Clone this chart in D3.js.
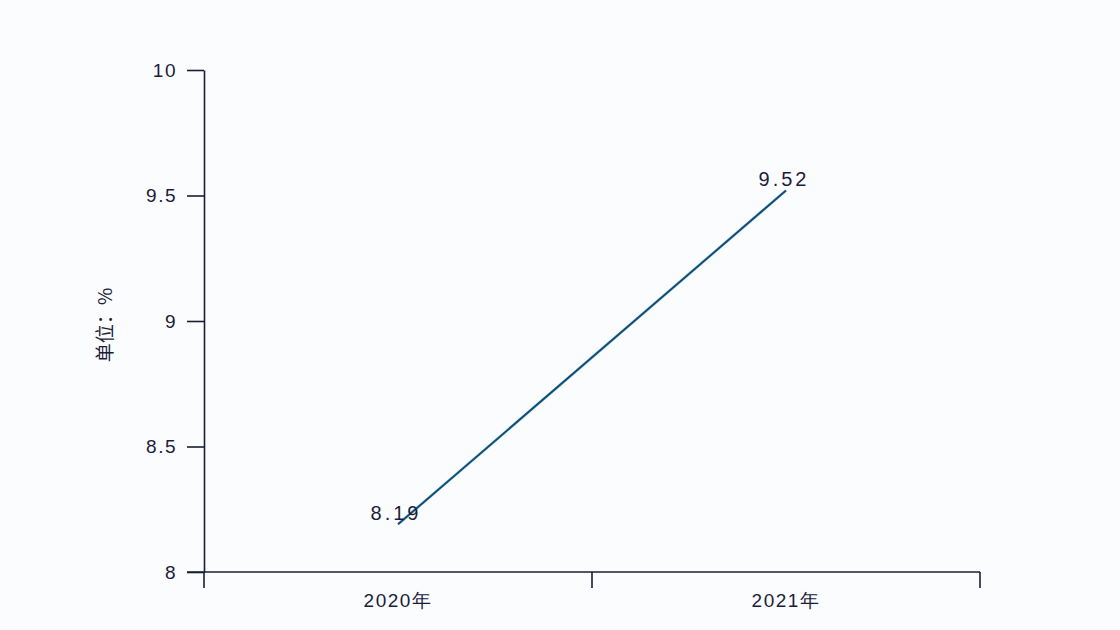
<!DOCTYPE html>
<meta charset="utf-8">
<style>
body {
    margin: 0;
    background-color: #fbfcfe;
    font-family: "Liberation Sans", "Noto Sans CJK SC", sans-serif;
}
.axis path, .axis line {
    stroke: #1c1c3a;
    stroke-width: 1.6px;
}
.axis text {
    font-size: 19px;
    fill: #1c1c3a;
    letter-spacing: 1.5px;
}
.label {
    font-size: 20px;
    fill: #1c1c3a;
    letter-spacing: 3px;
}
</style>
<body>
<script src="https://d3js.org/d3.v7.min.js"></script>
<script>
var width = 1120,
    height = 630;

var years = ["2020年", "2021年"];
var values = [8.19, 9.52];
var yTicks = [8, 8.5, 9, 9.5, 10];

var margin = {top: 70, right: 140, bottom: 58, left: 204};

var svg = d3.select("body").append("svg")
    .attr("width", width)
    .attr("height", height);

var x = d3.scaleBand()
    .domain(years)
    .range([margin.left, width - margin.right]);

var y = d3.scaleLinear()
    .domain([8, 10])
    .range([height - margin.bottom, margin.top]);

// y axis
svg.append("g")
    .attr("class", "axis")
    .attr("transform", "translate(" + margin.left + ",0)")
    .call(d3.axisLeft(y)
        .tickValues(yTicks)
        .tickSize(17)
        .tickSizeOuter(0)
        .tickPadding(10)
        .tickFormat(function(d) { return d; }));

// x axis
var xg = svg.append("g")
    .attr("class", "axis")
    .attr("transform", "translate(0," + y(8) + ")");

xg.call(d3.axisBottom(x).tickSize(0).tickSizeOuter(0).tickPadding(22));
xg.select(".domain").remove();
xg.append("line")
    .attr("x1", margin.left - 17)
    .attr("x2", x.range()[1])
    .attr("y1", 0).attr("y2", 0);

// ticks at category boundaries
var bounds = years.map(function(d) { return x(d); }).concat([x.range()[1]]);
xg.selectAll(".bound")
    .data(bounds)
    .enter().append("line")
    .attr("class", "bound")
    .attr("x1", function(d) { return d; })
    .attr("x2", function(d) { return d; })
    .attr("y1", 0)
    .attr("y2", 16);

// y title
svg.append("text")
    .attr("transform", "translate(112," + ((y(8) + y(10)) / 2 + 4) + ") rotate(-90)")
    .attr("text-anchor", "middle")
    .style("font-size", "19px")
    .style("fill", "#1c1c3a")
    .style("font-family", "Noto Sans CJK SC")
    .text("单位：%");

var cx = function(i) { return x(years[i]) + x.bandwidth() / 2; };

var line = d3.line()
    .x(function(d, i) { return cx(i); })
    .y(function(d) { return y(d); });

svg.append("path")
    .datum(values)
    .attr("d", line)
    .attr("fill", "none")
    .attr("stroke", "#6fd3e8")
    .attr("stroke-width", 3)
    .attr("opacity", 0.5);

svg.append("path")
    .datum(values)
    .attr("d", line)
    .attr("fill", "none")
    .attr("stroke", "#164a74")
    .attr("stroke-width", 2);

svg.selectAll(".label")
    .data(values)
    .enter().append("text")
    .attr("class", "label")
    .attr("x", function(d, i) { return cx(i) - 2; })
    .attr("y", function(d) { return y(d) - 4; })
    .attr("text-anchor", "middle")
    .text(function(d) { return d.toFixed(2); });
</script>
